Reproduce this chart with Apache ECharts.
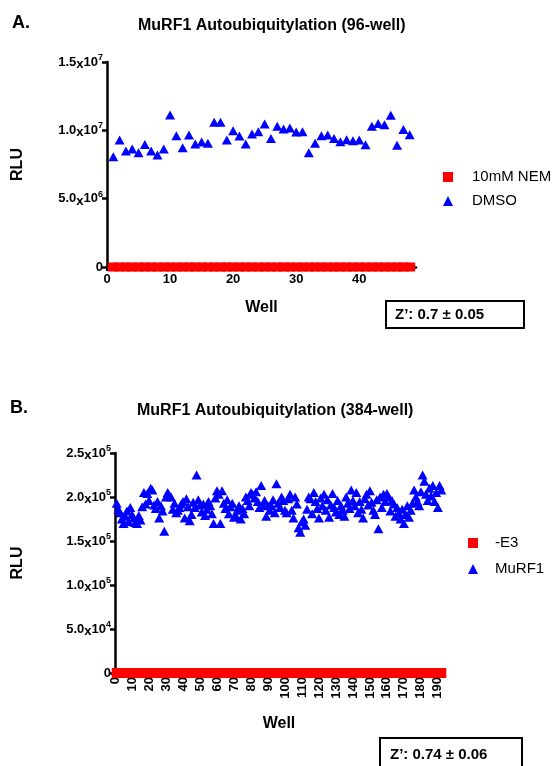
<!DOCTYPE html>
<html><head><meta charset="utf-8">
<script src="https://cdn.jsdelivr.net/npm/echarts@6/dist/echarts.min.js"></script>
<style>html,body{margin:0;padding:0;background:#fff}#c{width:558px;height:766px}</style>
</head><body><div id="c"></div>
<script>
// ---- Data ----
const titleA = 'MuRF1 Autoubiquitylation (96-well)';
const titleB = 'MuRF1 Autoubiquitylation (384-well)';
const seriesNamesA = ['10mM NEM', 'DMSO'];
const seriesNamesB = ['-E3', 'MuRF1'];
const xTicksA = [0, 10, 20, 30, 40];
const xTicksB = [0,10,20,30,40,50,60,70,80,90,100,110,120,130,140,150,160,170,180,190];
const yTicksA = [0, 5e6, 1e7, 1.5e7];
const yTicksB = [0, 5e4, 1e5, 1.5e5, 2e5, 2.5e5];
// Panel A: DMSO RLU per well (wells 1..48)
const dmsoA = [8.07e6,9.29e6,8.49e6,8.63e6,8.36e6,8.97e6,8.49e6,8.19e6,8.63e6,11.12e6,
  9.60e6,8.73e6,9.66e6,9.00e6,9.14e6,9.05e6,10.60e6,10.60e6,9.29e6,9.97e6,
  9.58e6,9.00e6,9.73e6,9.90e6,10.46e6,9.41e6,10.30e6,10.10e6,10.17e6,9.88e6,
  9.90e6,8.36e6,9.05e6,9.60e6,9.66e6,9.41e6,9.17e6,9.31e6,9.24e6,9.29e6,
  8.95e6,10.30e6,10.50e6,10.40e6,11.10e6,8.90e6,10.07e6,9.68e6];
// Panel A: 10mM NEM RLU per well (wells 1..48)
const nemA = [0,0,0,0,0,0,0,0,0,0, 0,0,0,0,0,0,0,0,0,0, 0,0,0,0,0,0,0,0,0,0, 0,0,0,0,0,0,0,0,0,0, 0,0,0,0,0,0,0,0];
// Panel B: MuRF1 RLU per well, in thousands (wells 1..192)
const murf1B_k = [
  193,186,182,175,170,178,184,172,188,180,
  176,171,170,179,174,189,205,192,204,196,
  210,208,191,187,195,176,190,184,161,200,
  205,202,200,186,193,182,185,188,192,195,
  176,198,189,173,180,194,188,225,197,191,
  183,192,179,186,195,190,181,170,199,207,
  203,170,207,193,187,197,181,189,193,177,
  179,185,190,175,187,181,200,196,190,205,
  203,199,206,195,188,213,191,196,178,190,
  185,190,197,182,215,193,188,200,196,185,
  182,198,203,185,176,200,192,165,160,172,
  175,168,186,200,198,181,205,195,187,176,
  199,190,203,185,197,177,191,204,188,183,
  196,180,190,185,178,200,193,187,208,196,
  190,205,182,195,186,176,198,203,191,207,
  194,185,180,197,164,200,188,203,195,204,
  200,184,196,192,178,188,182,175,186,170,
  180,190,177,185,193,208,200,195,190,206,
  225,218,203,196,210,201,213,195,205,188,213,208];
// Panel B: -E3 RLU per well, in thousands (wells 1..192)
const noE3B_k = [
  0,0,0,0,0,0,0,0,0,0, 0,0,0,0,0,0,0,0,0,0, 0,0,0,0,0,0,0,0,0,0, 0,0,0,0,0,0,0,0,0,0,
  0,0,0,0,0,0,0,0,0,0, 0,0,0,0,0,0,0,0,0,0, 0,0,0,0,0,0,0,0,0,0, 0,0,0,0,0,0,0,0,0,0,
  0,0,0,0,0,0,0,0,0,0, 0,0,0,0,0,0,0,0,0,0, 0,0,0,0,0,0,0,0,0,0, 0,0,0,0,0,0,0,0,0,0,
  0,0,0,0,0,0,0,0,0,0, 0,0,0,0,0,0,0,0,0,0, 0,0,0,0,0,0,0,0,0,0, 0,0,0,0,0,0,0,0,0,0,
  0,0,0,0,0,0,0,0,0,0, 0,0,0,0,0,0,0,0,0,0, 0,0,0,0,0,0,0,0,0,0, 0,0];
const zA = 'Z\u2019: 0.7 \u00b1 0.05';
const zB = 'Z\u2019: 0.74 \u00b1 0.06';

// ---- Build ----
const F = "'Liberation Sans', Arial, sans-serif";
const pairs = arr => arr.map((v, i) => [i + 1, v]);
const pairsK = arr => arr.map((v, i) => [i + 1, v * 1000]);

const rich = {
  n: {fontSize: 13, fontWeight: 'bold', fontFamily: F, color: '#000'},
  x: {fontSize: 13, fontWeight: 'bold', fontFamily: F, color: '#000', padding: [5, 0, 0, 0], verticalAlign: 'bottom'},
  s: {fontSize: 9, fontWeight: 'bold', fontFamily: F, color: '#000', verticalAlign: 'top'}
};
function sciFmt(v) {
  if (v === 0) return '{n|0}';
  const e = Math.floor(Math.log10(v) + 1e-9);
  const m = (v / Math.pow(10, e)).toFixed(1);
  return '{n|' + m + '}{x|x}{n|10}{s|' + e + '}';
}
const axisLineStyle = {color: '#000', width: 2.5};
function yAxisCfg(gi, max, interval, ticks, gap) {
  return {
    gridIndex: gi, type: 'value', min: 0, max: max, interval: interval,
    name: 'RLU', nameLocation: 'middle', nameRotate: 90, nameGap: gap,
    nameTextStyle: {fontSize: 16, fontWeight: 'bold', fontFamily: F, color: '#000'},
    axisLine: {show: true, lineStyle: axisLineStyle},
    axisTick: {show: true, length: 5, lineStyle: {color: '#000', width: 2.5}, customValues: ticks},
    axisLabel: {formatter: sciFmt, rich: rich, margin: 4, customValues: ticks},
    splitLine: {show: false}
  };
}
function xAxisCfg(gi, max, ticks, gap, rotate) {
  return {
    gridIndex: gi, type: 'value', min: 0, max: max,
    name: 'Well', nameLocation: 'middle', nameGap: gap,
    nameTextStyle: {fontSize: 16, fontWeight: 'bold', fontFamily: F, color: '#000'},
    axisLine: {show: true, onZero: false, lineStyle: axisLineStyle},
    axisTick: {show: true, length: 4, lineStyle: {color: '#000', width: 2}, customValues: ticks},
    axisLabel: {fontSize: 13, fontWeight: 'bold', fontFamily: F, color: '#000', margin: rotate ? 4 : 6,
      rotate: rotate, customValues: ticks},
    splitLine: {show: false}
  };
}

const chart = echarts.init(document.getElementById('c'), null, {renderer: 'canvas'});
chart.setOption({
  backgroundColor: '#fff',
  animation: false,
  title: [
    {text: titleA, left: 138, top: 16, padding: 0, textStyle: {fontSize: 16, fontWeight: 'bold', fontFamily: F, color: '#000', lineHeight: 20}},
    {text: titleB, left: 137, top: 401, padding: 0, textStyle: {fontSize: 16, fontWeight: 'bold', fontFamily: F, color: '#000', lineHeight: 20}}
  ],
  grid: [
    {left: 107, top: 62, width: 309, height: 205},
    {left: 115, top: 453, width: 328, height: 220}
  ],
  xAxis: [xAxisCfg(0, 49, xTicksA, 33, 0), xAxisCfg(1, 193, xTicksB, 43, 90)],
  yAxis: [yAxisCfg(0, 1.5e7, 5e6, yTicksA, 81), yAxisCfg(1, 2.5e5, 5e4, yTicksB, 89)],
  legend: [
    {orient: 'vertical', left: 443, top: 169, padding: 0, itemWidth: 10, itemHeight: 10, itemGap: 8,
      data: [{name: seriesNamesA[0], icon: 'rect'}, {name: seriesNamesA[1], icon: 'triangle'}],
      textStyle: {fontSize: 15, fontFamily: F, color: '#000', lineHeight: 16, padding: [0, 0, 0, 14]}},
    {orient: 'vertical', left: 468, top: 535, padding: 0, itemWidth: 10, itemHeight: 10, itemGap: 10,
      data: [{name: seriesNamesB[0], icon: 'rect'}, {name: seriesNamesB[1], icon: 'triangle'}],
      textStyle: {fontSize: 15, fontFamily: F, color: '#000', lineHeight: 16, padding: [0, 0, 0, 12]}}
  ],
  series: [
    {name: seriesNamesA[0], type: 'scatter', xAxisIndex: 0, yAxisIndex: 0, symbol: 'rect', symbolSize: [11, 9],
      itemStyle: {color: '#ff0000', opacity: 1}, data: pairs(nemA)},
    {name: seriesNamesA[1], type: 'scatter', xAxisIndex: 0, yAxisIndex: 0, symbol: 'triangle', symbolSize: [10, 9],
      itemStyle: {color: '#0000ff', opacity: 1}, data: pairs(dmsoA)},
    {name: seriesNamesB[0], type: 'scatter', xAxisIndex: 1, yAxisIndex: 1, symbol: 'rect', symbolSize: [10, 10],
      itemStyle: {color: '#ff0000', opacity: 1}, data: pairsK(noE3B_k)},
    {name: seriesNamesB[1], type: 'scatter', xAxisIndex: 1, yAxisIndex: 1, symbol: 'triangle', symbolSize: [10, 9],
      itemStyle: {color: '#0000ff', opacity: 1}, data: pairsK(murf1B_k)}
  ],
  graphic: [
    {type: 'text', left: 12, top: 14, style: {text: 'A.', fontSize: 18, fontWeight: 'bold', fontFamily: F, fill: '#000'}},
    {type: 'text', left: 10, top: 399, style: {text: 'B.', fontSize: 18, fontWeight: 'bold', fontFamily: F, fill: '#000'}},
    {type: 'rect', shape: {x: 386, y: 301, width: 138, height: 27}, style: {fill: 'none', stroke: '#000', lineWidth: 2}},
    {type: 'text', x: 395, y: 315, style: {text: zA, fontSize: 15, fontWeight: 'bold', fontFamily: F, fill: '#000', verticalAlign: 'middle'}},
    {type: 'rect', shape: {x: 380, y: 738, width: 142, height: 40}, style: {fill: 'none', stroke: '#000', lineWidth: 2}},
    {type: 'text', x: 390, y: 755, style: {text: zB, fontSize: 15, fontWeight: 'bold', fontFamily: F, fill: '#000', verticalAlign: 'middle'}}
  ]
});
</script></body></html>
